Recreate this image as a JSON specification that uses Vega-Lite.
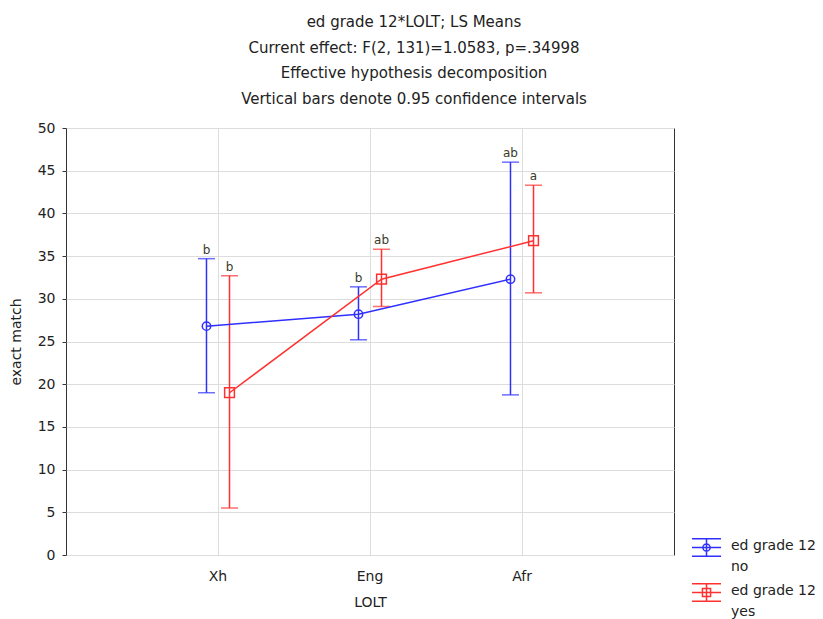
{
  "$schema": "https://vega.github.io/schema/vega-lite/v6.json",
  "autosize": "none",
  "width": 608,
  "height": 427,
  "padding": {"left": 66, "top": 128, "right": 149, "bottom": 64},
  "background": "white",
  "config": {
    "font": "DejaVu Sans",
    "view": {"stroke": "#333333", "strokeWidth": 1},
    "axis": {"labelFont": "DejaVu Sans", "titleFont": "DejaVu Sans", "labelFontSize": 14, "titleFontSize": 14, "titleFontWeight": "normal", "labelColor": "#222222", "titleColor": "#222222", "gridColor": "#dddddd", "gridWidth": 1, "domainColor": "#333333", "tickColor": "#333333"}
  },
  "title": {
    "text": ["ed grade 12*LOLT; LS Means", "Current effect: F(2, 131)=1.0583, p=.34998", "Effective hypothesis decomposition", "Vertical bars denote 0.95 confidence intervals"],
    "fontSize": 15,
    "fontWeight": "normal",
    "font": "DejaVu Sans",
    "color": "#222222",
    "lineHeight": 25.6,
    "anchor": "middle",
    "dx": 44,
    "offset": 14
  },
  "data": {
    "values": [
      {"LOLT": "Xh", "grp": "no", "mean": 26.8, "lo": 19.0, "hi": 34.7, "letter": "b"},
      {"LOLT": "Xh", "grp": "yes", "mean": 19.0, "lo": 5.5, "hi": 32.7, "letter": "b"},
      {"LOLT": "Eng", "grp": "no", "mean": 28.2, "lo": 25.2, "hi": 31.4, "letter": "b"},
      {"LOLT": "Eng", "grp": "yes", "mean": 32.3, "lo": 29.1, "hi": 35.8, "letter": "ab"},
      {"LOLT": "Afr", "grp": "no", "mean": 32.3, "lo": 18.75, "hi": 46.0, "letter": "ab"},
      {"LOLT": "Afr", "grp": "yes", "mean": 36.8, "lo": 30.7, "hi": 43.3, "letter": "a"}
    ]
  },
  "encoding": {
    "x": {
      "field": "LOLT", "type": "nominal",
      "scale": {"domain": ["Xh", "Eng", "Afr"], "paddingInner": 0, "paddingOuter": 0.5},
      "axis": {"title": "LOLT", "labelAngle": 0, "bandPosition": 0.5, "grid": true, "ticks": false, "labelPadding": 14, "titlePadding": 12, "domain": false}
    },
    "xOffset": {"field": "grp", "type": "nominal", "scale": {"domain": ["_a", "_b", "no", "yes", "_c", "_d"], "paddingInner": 0, "paddingOuter": 0.3}},
    "color": {
      "field": "grp", "type": "nominal",
      "scale": {"domain": ["no", "yes"], "range": ["#2f2fff", "#ff3030"]},
      "legend": {
        "orient": "none", "legendX": 625, "legendY": 404, "title": null,
        "labelExpr": "['ed grade 12', datum.label]",
        "labelFont": "DejaVu Sans", "labelFontSize": 14, "labelColor": "#222222",
        "labelOffset": 9, "labelBaseline": "top",
        "symbolSize": 841, "symbolStrokeWidth": 1.5, "rowPadding": 3,
        "symbolType": "M-1,-0.6H1M-1,0.6H1M-1,0H1M0,-0.6V0.6M-0.27,-0.27H0.27V0.27H-0.27Z",
        "symbolFillColor": "transparent",
        "encode": {
          "symbols": {"update": {
            "shape": {"signal": "datum.value == 'no' ? 'M-1,-0.6H1M-1,0.6H1M-1,0H1M0,-0.6V0.6M-0.25,0A0.25,0.25 0 1,0 0.25,0A0.25,0.25 0 1,0 -0.25,0' : 'M-1,-0.6H1M-1,0.6H1M-1,0H1M0,-0.6V0.6M-0.28,-0.28H0.28V0.28H-0.28Z'"},
            "fill": {"value": "transparent"},
            "fillOpacity": {"value": 0},
            "strokeWidth": {"value": 1.5}
          }},
          "labels": {"update": {"dy": {"value": -9}, "lineHeight": {"value": 21}}}
        }
      }
    }
  },
  "layer": [
    {
      "mark": {"type": "rule", "strokeWidth": 1.5},
      "encoding": {
        "y": {"field": "lo", "type": "quantitative", "scale": {"domain": [0, 50], "nice": false, "zero": false},
          "axis": {"title": "exact match", "values": [0,5,10,15,20,25,30,35,40,45,50], "tickSize": 4, "labelPadding": 7, "titlePadding": 14, "grid": true, "domain": false}},
        "y2": {"field": "hi"}
      }
    },
    {
      "mark": {"type": "tick", "orient": "horizontal", "size": 17, "thickness": 1.5},
      "encoding": {"y": {"field": "lo", "type": "quantitative"}}
    },
    {
      "mark": {"type": "tick", "orient": "horizontal", "size": 17, "thickness": 1.5},
      "encoding": {"y": {"field": "hi", "type": "quantitative"}}
    },
    {
      "mark": {"type": "line", "strokeWidth": 1.5},
      "encoding": {"y": {"field": "mean", "type": "quantitative"}}
    },
    {
      "transform": [{"filter": "datum.grp == 'no'"}],
      "mark": {"type": "point", "shape": "circle", "filled": false, "strokeWidth": 1.5, "size": 70, "opacity": 1},
      "encoding": {"y": {"field": "mean", "type": "quantitative"}}
    },
    {
      "transform": [{"filter": "datum.grp == 'yes'"}],
      "mark": {"type": "point", "shape": "square", "filled": false, "strokeWidth": 1.5, "size": 95, "opacity": 1},
      "encoding": {"y": {"field": "mean", "type": "quantitative"}}
    },
    {
      "mark": {"type": "text", "dy": -9, "fontSize": 12, "font": "DejaVu Sans"},
      "encoding": {
        "y": {"field": "hi", "type": "quantitative"},
        "text": {"field": "letter"},
        "color": {"value": "#3a3a2a"}
      }
    }
  ]
}
